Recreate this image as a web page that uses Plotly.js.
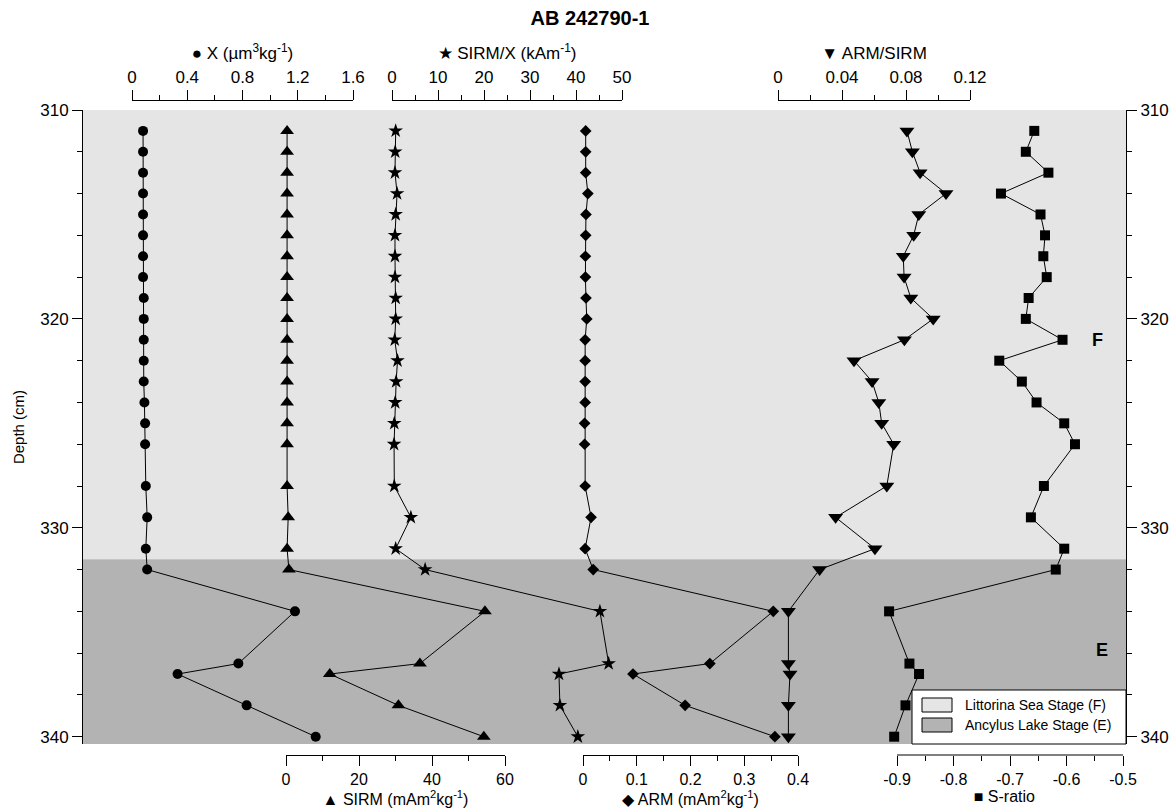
<!DOCTYPE html>
<html>
<head>
<meta charset="utf-8">
<script src="https://cdn.plot.ly/plotly-3.0.1.min.js"></script>
<style>html,body{margin:0;padding:0;background:#fff;}#chart{width:1176px;height:809px;}</style>
</head>
<body>
<div id="chart"></div>
<script>
// ---------------- data ----------------
const depth = [311,312,313,314,315,316,317,318,319,320,321,322,323,324,325,326,328,329.5,331,332,334,336.5,337,338.5,340];
const chi = [0.08,0.08,0.08,0.08,0.08,0.08,0.08,0.08,0.085,0.085,0.085,0.085,0.085,0.09,0.095,0.095,0.10,0.11,0.10,0.11,1.18,0.77,0.33,0.83,1.33];
const sirm = [0.3,0.3,0.3,0.3,0.3,0.3,0.3,0.3,0.3,0.3,0.3,0.3,0.3,0.3,0.3,0.3,0.3,0.6,0.3,0.8,54.5,36.7,12.0,30.8,54.2];
const sirmChi = [0.8,0.7,0.65,1.1,0.8,0.65,0.65,0.65,0.8,0.8,0.6,1.2,0.9,0.7,0.5,0.45,0.5,4.1,0.8,7.2,45.2,47.1,36.3,36.5,40.4];
const arm = [0.005,0.005,0.005,0.009,0.0055,0.005,0.0045,0.0045,0.0055,0.007,0.004,0.004,0.004,0.004,0.003,0.003,0.004,0.015,0.004,0.019,0.354,0.236,0.093,0.19,0.357];
const armSirm = [0.0806,0.084,0.0888,0.105,0.088,0.0848,0.0783,0.0788,0.083,0.097,0.079,0.0475,0.0588,0.063,0.0648,0.0723,0.068,0.036,0.0606,0.026,0.0065,0.0065,0.0075,0.0065,0.0065];
const sRatio = [-0.657,-0.672,-0.632,-0.716,-0.646,-0.638,-0.641,-0.635,-0.667,-0.672,-0.607,-0.719,-0.679,-0.653,-0.604,-0.585,-0.640,-0.663,-0.604,-0.619,-0.914,-0.878,-0.861,-0.885,-0.905];

// stages
const stageNames = ["Littorina Sea Stage (F)", "Ancylus Lake Stage (E)"];
const stageLabels = ["F", "E"];
const stageTop = [310, 331.5];
const stageBottom = [331.5, 340.35];
const stageLabelDepth = [321, 335.85];

// tick labels
const depthTicks = [310, 320, 330, 340];
const depthMinor = [312,314,316,318,322,324,326,328,332,334,336,338];
const chiTicks = [0, 0.4, 0.8, 1.2, 1.6];
const chiTickText = ["0", "0.4", "0.8", "1.2", "1.6"];
const chiMinor = [0.2, 0.6, 1.0, 1.4];
const sirmChiTicks = [0, 10, 20, 30, 40, 50];
const sirmChiTickText = ["0", "10", "20", "30", "40", "50"];
const sirmChiMinor = [5, 15, 25, 35, 45];
const armSirmTicks = [0, 0.04, 0.08, 0.12];
const armSirmTickText = ["0", "0.04", "0.08", "0.12"];
const armSirmMinor = [0.02, 0.06, 0.10];
const sirmTicks = [0, 20, 40, 60];
const sirmTickText = ["0", "20", "40", "60"];
const sirmMinor = [10, 30, 50];
const armTicks = [0, 0.1, 0.2, 0.3, 0.4];
const armTickText = ["0", "0.1", "0.2", "0.3", "0.4"];
const armMinor = [0.05, 0.15, 0.25, 0.35];
const sRatioTicks = [-0.9, -0.8, -0.7, -0.6, -0.5];
const sRatioTickText = ["-0.9", "-0.8", "-0.7", "-0.6", "-0.5"];
const sRatioMinor = [-0.85, -0.75, -0.65, -0.55];

// ---------------- layout helpers ----------------
const FONT = "Liberation Sans, Arial, Helvetica, sans-serif";
const L = 82, R = 1126, T = 100, B = 755;
const W = R - L, H = B - T;
const px = x => (x - L) / W;
const py = y => (B - y) / H;
const sym = s => s + ' ';

function xAxis(d0, d1, range, ticks, text, minor, title, top, showline) {
  return {
    domain: [px(d0), px(d1)], range: range, anchor: 'free', position: top ? 1 : 0,
    side: top ? 'top' : 'bottom', showline: showline !== false, linecolor: '#000', linewidth: 1,
    ticks: 'outside', ticklen: 10, tickwidth: 1, tickcolor: '#000',
    tickmode: 'array', tickvals: ticks, ticktext: text,
    minor: {tickmode: 'array', tickvals: minor, ticks: 'outside', ticklen: 5, tickwidth: 1, tickcolor: '#000', showgrid: false},
    showgrid: false, zeroline: false, fixedrange: true,
    tickfont: {family: FONT, size: top ? 17 : 16, color: '#000'},
    title: {text: title, font: {family: FONT, size: top ? 17 : 16, color: '#000'}, standoff: top ? 3 : 3}
  };
}
function yAxis(right) {
  return {
    domain: [py(744), py(110)], range: [340.35, 310], anchor: 'free', position: right ? 1 : 0,
    side: right ? 'right' : 'left', overlaying: right ? 'y' : undefined,
    showline: true, linecolor: '#000', linewidth: 1,
    ticks: 'outside', ticklen: 10, tickwidth: 1, tickcolor: '#000',
    tickmode: 'array', tickvals: depthTicks, ticktext: depthTicks.map(String),
    minor: {tickmode: 'array', tickvals: depthMinor, ticks: 'outside', ticklen: 5, tickwidth: 1, tickcolor: '#000', showgrid: false},
    showgrid: false, zeroline: false, fixedrange: true,
    tickfont: {family: FONT, size: 17, color: '#000'},
    title: right ? {text: ''} : {text: 'Depth (cm)', font: {family: FONT, size: 15, color: '#000'}, standoff: 10}
  };
}

function series(x, axis, symbol, size) {
  return {
    type: 'scatter', mode: 'lines+markers', x: x, y: depth, xaxis: axis, yaxis: 'y',
    line: {color: '#000', width: 1},
    marker: {symbol: symbol, size: size, color: '#000', line: {width: 0}},
    cliponaxis: false, showlegend: false, hoverinfo: 'x+y'
  };
}

const traces = [
  series(chi, 'x', 'circle', 10),
  series(sirmChi, 'x2', 'star', 11),
  series(armSirm, 'x3', 'triangle-down', 13),
  series(sirm, 'x4', 'triangle-up', 12),
  series(arm, 'x5', 'diamond', 9),
  series(sRatio, 'x6', 'square', 10),
  {type: 'scatter', x: [], y: [], xaxis: 'x', yaxis: 'y2', showlegend: false, hoverinfo: 'skip'}
];

const shapes = [];
const annotations = [];
const stageColors = ['#e5e5e5', '#b3b3b3'];
stageNames.forEach((n, i) => {
  shapes.push({type: 'rect', xref: 'paper', yref: 'y', x0: 0, x1: 1, y0: stageTop[i], y1: stageBottom[i],
    fillcolor: stageColors[i], line: {width: 0}, layer: 'below'});
  annotations.push({xref: 'paper', yref: 'y', x: px(i === 0 ? 1097 : 1102), y: stageLabelDepth[i], text: '<b>' + stageLabels[i] + '</b>',
    showarrow: false, xanchor: 'center', yanchor: 'middle', font: {family: FONT, size: 18, color: '#000'}});
});
// S-ratio axis line (only over -0.9 .. -0.5)
shapes.push({type: 'line', xref: 'x6', yref: 'paper', x0: -0.9, x1: -0.5, y0: 0, y1: 0, line: {color: '#000', width: 1}, layer: 'above'});
// legend box
shapes.push({type: 'rect', xref: 'paper', yref: 'paper', x0: px(912), x1: px(1126), y0: py(744), y1: py(690),
  fillcolor: '#fff', line: {color: '#000', width: 1}, layer: 'above'});
stageNames.forEach((n, i) => {
  const yc = 705 + 20 * i;
  shapes.push({type: 'rect', xref: 'paper', yref: 'paper', x0: px(922), x1: px(952), y0: py(yc + 7), y1: py(yc - 7),
    fillcolor: stageColors[i], line: {color: '#000', width: 1}, layer: 'above'});
  annotations.push({xref: 'paper', yref: 'paper', x: px(963), y: py(yc), text: n, showarrow: false,
    xanchor: 'left', yanchor: 'middle', font: {family: FONT, size: 14, color: '#000'}});
});

const layout = {
  width: 1176, height: 809,
  margin: {l: L, r: 1176 - R, t: T, b: 809 - B, pad: 0},
  paper_bgcolor: '#fff', plot_bgcolor: 'rgba(0,0,0,0)',
  showlegend: false,
  font: {family: FONT, size: 17, color: '#000'},
  title: {text: '<b>AB 242790-1</b>', font: {family: FONT, size: 20, color: '#000'},
    xref: 'container', yref: 'container', x: 590 / 1176, y: 1 - 18 / 809, xanchor: 'center', yanchor: 'middle'},
  xaxis: xAxis(132, 353, [0, 1.6], chiTicks, chiTickText, chiMinor, sym('●') + 'X (µm<sup>3</sup>kg<sup>-1</sup>)', true),
  xaxis2: xAxis(392, 622, [0, 50], sirmChiTicks, sirmChiTickText, sirmChiMinor, sym('★') + 'SIRM/X (kAm<sup>-1</sup>)', true),
  xaxis3: xAxis(778, 970, [0, 0.12], armSirmTicks, armSirmTickText, armSirmMinor, sym('▼') + 'ARM/SIRM', true),
  xaxis4: xAxis(286, 505, [0, 60], sirmTicks, sirmTickText, sirmMinor, sym('▲') + 'SIRM (mAm<sup>2</sup>kg<sup>-1</sup>)', false),
  xaxis5: xAxis(583, 798, [0, 0.4], armTicks, armTickText, armMinor, sym('◆') + 'ARM (mAm<sup>2</sup>kg<sup>-1</sup>)', false),
  xaxis6: xAxis(897 - 0.02 * 565, 1123, [-0.92, -0.5], sRatioTicks, sRatioTickText, sRatioMinor, sym('■') + 'S-ratio', false, false),
  yaxis: yAxis(false),
  yaxis2: yAxis(true),
  shapes: shapes,
  annotations: annotations
};

Plotly.newPlot('chart', traces, layout, {displayModeBar: false, staticPlot: true});
</script>
</body>
</html>
